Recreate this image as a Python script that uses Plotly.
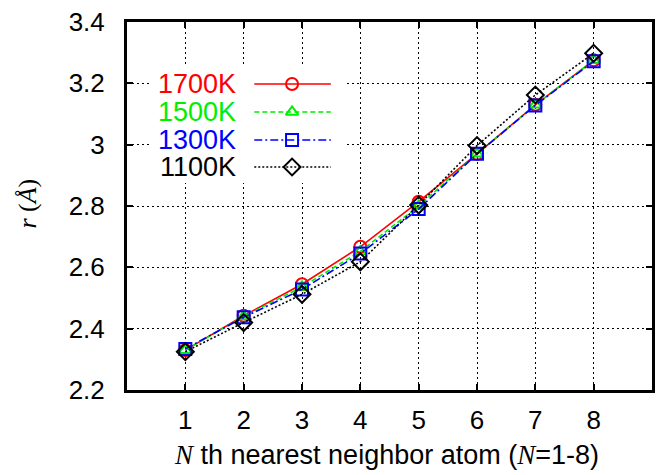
import plotly.graph_objects as go

# ---- data ----
neighbors = [1, 2, 3, 4, 5, 6, 7, 8]
r_1700 = [2.330, 2.442, 2.545, 2.667, 2.814, 2.970, 3.130, 3.275]
r_1500 = [2.330, 2.440, 2.536, 2.652, 2.800, 2.970, 3.130, 3.275]
r_1300 = [2.334, 2.437, 2.528, 2.645, 2.790, 2.970, 3.128, 3.272]
r_1100 = [2.325, 2.420, 2.512, 2.618, 2.803, 2.997, 3.162, 3.298]
series_names = ["1700K", "1500K", "1300K", "1100K"]
y_tickvals = [2.2, 2.4, 2.6, 2.8, 3.0, 3.2, 3.4]
y_ticktext = ["2.2", "2.4", "2.6", "2.8", "3", "3.2", "3.4"]
x_tickvals = neighbors
x_ticktext = [str(v) for v in neighbors]

# ---- styles ----
colors = ["#ff0000", "#00ee00", "#0000ff", "#000000"]
dashes = ["solid", "5px,3px", "8px,3px,2px,3px", "2px,2px"]
symbols = ["circle-open", "triangle-up-open", "square-open", "diamond-open"]
msizes = [12, 11, 12, 13]
series_values = [r_1700, r_1500, r_1300, r_1100]

L, R, T, B = 127, 2, 22, 85
W, H = 657, 475
PW, PH = W - L - R, H - T - B

def px_x(p):
    return (p - L) / PW

def px_y(p):
    return (H - B - p) / PH

fig = go.Figure()

for name, vals, c, d, s, ms in zip(series_names, series_values, colors, dashes, symbols, msizes):
    fig.add_trace(go.Scatter(
        x=neighbors, y=vals, name=name, mode="lines+markers",
        line=dict(color=c, width=1.6, dash=d),
        marker=dict(symbol=s, size=ms, color=c, line=dict(width=2, color=c)),
        showlegend=False,
    ))

# ---- manual legend box (white, hides grid) on a pixel overlay axis ----
box_x0, box_x1, box_y0, box_y1 = 152, 346, 65, 183
fig.add_trace(go.Scatter(
    x=[box_x0, box_x1, box_x1, box_x0, box_x0],
    y=[box_y0, box_y0, box_y1, box_y1, box_y0],
    mode="lines", fill="toself", fillcolor="white", line=dict(width=0, color="white"),
    xaxis="x2", yaxis="y2", showlegend=False, hoverinfo="skip"))

leg_rows_y = [84, 112, 140, 167]
leg_text_right = 239
leg_line_x0, leg_line_x1, leg_mark_x = 255, 332, 293
for name, c, d, s, ms, yy in zip(series_names, colors, dashes, symbols, msizes, leg_rows_y):
    fig.add_trace(go.Scatter(
        x=[leg_line_x0, leg_line_x1], y=[yy, yy], mode="lines",
        line=dict(color=c, width=1.6, dash=d), xaxis="x2", yaxis="y2",
        showlegend=False, hoverinfo="skip"))
    fig.add_trace(go.Scatter(
        x=[leg_mark_x], y=[yy], mode="markers",
        marker=dict(symbol=s, size=ms, color=c, line=dict(width=2, color=c)),
        xaxis="x2", yaxis="y2", showlegend=False, hoverinfo="skip"))
    fig.add_annotation(
        x=leg_text_right, y=yy, xref="x2", yref="y2", text=name,
        showarrow=False, xanchor="right", yanchor="middle",
        font=dict(family="Liberation Sans, Arial", size=27, color=c))

axis_common = dict(
    showline=True, linecolor="black", linewidth=3, mirror="ticks",
    ticks="inside", ticklen=6, tickwidth=2, tickcolor="black",
    showgrid=True, gridcolor="black", gridwidth=1.2, griddash="2px,3px",
    zeroline=False,
    tickfont=dict(family="Liberation Sans, Arial", size=26, color="black"),
)

fig.update_layout(
    width=W, height=H,
    margin=dict(l=L, r=R, t=T, b=B),
    plot_bgcolor="white", paper_bgcolor="white",
    xaxis=dict(range=[0, 9], tickmode="array", tickvals=x_tickvals, ticktext=x_ticktext,
               ticklabelstandoff=5, **axis_common),
    yaxis=dict(range=[2.2, 3.4], tickmode="array", tickvals=y_tickvals, ticktext=y_ticktext,
               ticklabelstandoff=14, **axis_common),
    xaxis2=dict(range=[L, W - R], overlaying="x", visible=False, fixedrange=True),
    yaxis2=dict(range=[H - B, T], overlaying="y", visible=False, fixedrange=True),
)

serif = "font-family:'Liberation Serif', 'Times New Roman', serif"
fig.add_annotation(
    x=px_x(26), y=px_y(204), xref="paper", yref="paper",
    text=f"<span style=\"{serif}\"><i>r</i> (<i>Å</i>)</span>",
    textangle=-90, showarrow=False, xanchor="center", yanchor="middle",
    font=dict(family="Liberation Serif, Times New Roman", size=26, color="black"))
fig.add_annotation(
    x=px_x(388), y=px_y(455), xref="paper", yref="paper",
    text=f"<span style=\"{serif}\"><i>N</i></span> th nearest neighbor atom "
         f"(<span style=\"{serif}\"><i>N</i></span>=1-8)",
    showarrow=False, xanchor="center", yanchor="middle",
    font=dict(family="Liberation Sans, Arial", size=27, color="black"))

fig.write_html("out.html")
